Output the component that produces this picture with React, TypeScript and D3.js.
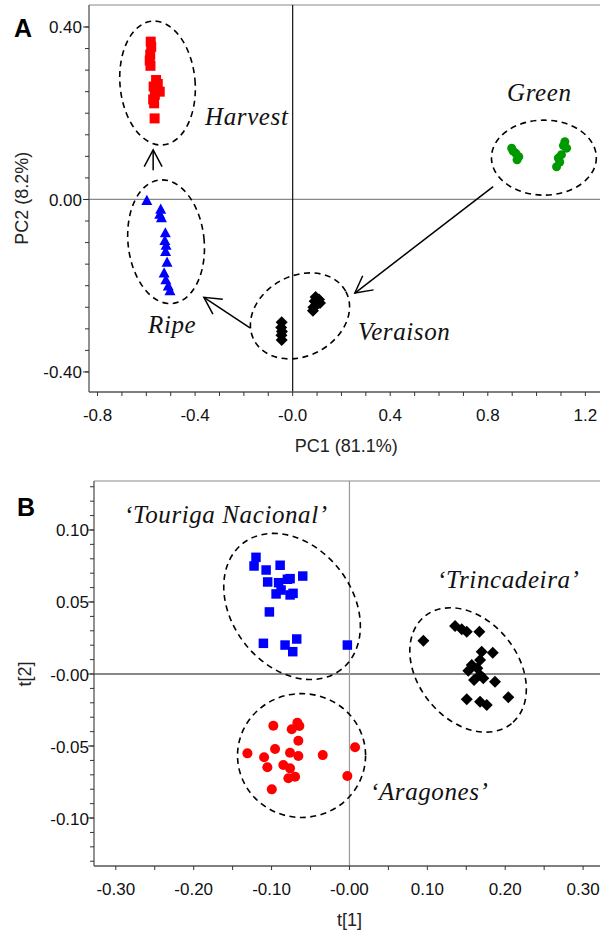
import * as d3 from 'd3';
import React, { useEffect, useRef } from 'react';

// ---- Panel A : PC1 / PC2 scores per ripening stage ----
const harvestX = [-0.582, -0.580, -0.584, -0.586, -0.583, -0.560, -0.553, -0.545, -0.570, -0.565, -0.572, -0.568, -0.566];
const harvestY = [0.366, 0.354, 0.336, 0.322, 0.310, 0.277, 0.268, 0.250, 0.262, 0.243, 0.232, 0.223, 0.188];
const ripeX = [-0.598, -0.541, -0.545, -0.538, -0.522, -0.524, -0.519, -0.521, -0.515, -0.527, -0.520, -0.510, -0.503];
const ripeY = [-0.002, -0.022, -0.034, -0.042, -0.077, -0.095, -0.106, -0.120, -0.145, -0.170, -0.186, -0.200, -0.211];
const veraisonX = [-0.045, -0.047, -0.044, -0.046, -0.045, 0.083, 0.094, 0.108, 0.112, 0.097, 0.085, 0.090];
const veraisonY = [-0.285, -0.297, -0.306, -0.315, -0.326, -0.258, -0.226, -0.232, -0.240, -0.245, -0.250, -0.236];
const greenX = [0.898, 0.904, 0.915, 0.920, 0.927, 1.116, 1.123, 1.110, 1.089, 1.082, 1.095, 1.102];
const greenY = [0.119, 0.112, 0.107, 0.092, 0.099, 0.134, 0.119, 0.125, 0.096, 0.076, 0.087, 0.104];

const pc1Ticks = [-0.8, -0.4, 0, 0.4, 0.8, 1.2];
const pc1TickLabels = ['-0.8', '-0.4', '-0.0', '0.4', '0.8', '1.2'];
const pc2Ticks = [-0.4, 0, 0.4];
const pc2TickLabels = ['-0.40', '0.00', '0.40'];

// ---- Panel B : t[1] / t[2] scores per cultivar ----
const tourigaX = [-0.120, -0.1225, -0.107, -0.089, -0.060, -0.105, -0.091, -0.0797, -0.0762, -0.0878, -0.0942, -0.0762, -0.0724, -0.1028, -0.1105, -0.0827, -0.0728, -0.0677, -0.0027];
const tourigaY = [0.081, 0.075, 0.0722, 0.0755, 0.068, 0.0639, 0.0634, 0.0658, 0.0662, 0.0583, 0.0556, 0.0549, 0.056, 0.0431, 0.0213, 0.0201, 0.0155, 0.0243, 0.0201];
const aragonesX = [-0.0977, -0.0669, -0.0643, -0.0741, -0.0656, -0.131, -0.0955, -0.0763, -0.0656, -0.1096, -0.1054, -0.0849, -0.0763, -0.0698, -0.0784, -0.0343, 0.0072, -0.0027, -0.0997];
const aragonesY = [-0.0359, -0.0338, -0.0361, -0.0384, -0.0463, -0.0551, -0.0521, -0.0547, -0.0569, -0.0578, -0.0648, -0.0632, -0.0655, -0.0713, -0.0724, -0.0563, -0.0509, -0.0708, -0.0801];
const trincaX = [0.0949, 0.1356, 0.1442, 0.1506, 0.1668, 0.1698, 0.184, 0.1677, 0.157, 0.1526, 0.1642, 0.1677, 0.16, 0.1719, 0.1869, 0.1506, 0.1677, 0.1763, 0.204];
const trincaY = [0.0231, 0.0333, 0.031, 0.0294, 0.0294, 0.0155, 0.0148, 0.0097, 0.0063, 0.0023, 0.004, -0.0007, -0.0042, -0.003, -0.0053, -0.0176, -0.0192, -0.0215, -0.0162];

const t1Ticks = [-0.3, -0.2, -0.1, 0, 0.1, 0.2, 0.3];
const t1TickLabels = ['-0.30', '-0.20', '-0.10', '-0.00', '0.10', '0.20', '0.30'];
const t2Ticks = [-0.1, -0.05, 0, 0.05, 0.1];
const t2TickLabels = ['-0.10', '-0.05', '-0.00', '0.05', '0.10'];

// group outlines (data units, rotation in degrees)
const ellipsesA = [
	{ cx: -0.554, cy: 0.270, rx: 0.154, ry: 0.144, rot: -5 },
	{ cx: -0.519, cy: -0.098, rx: 0.156, ry: 0.144, rot: -6 },
	{ cx: 0.030, cy: -0.270, rx: 0.213, ry: 0.093, rot: -28 },
	{ cx: 1.030, cy: 0.097, rx: 0.215, ry: 0.087, rot: 0 },
];
const arrowsA = [
	{ x1: -0.572, y1: 0.068, x2: -0.572, y2: 0.115 },
	{ x1: -0.175, y1: -0.298, x2: -0.364, y2: -0.227 },
	{ x1: 0.822, y1: 0.030, x2: 0.255, y2: -0.217 },
];
const labelsA = [
	{ text: 'Harvest', x: -0.359, y: 0.173 },
	{ text: 'Green', x: 0.879, y: 0.229 },
	{ text: 'Ripe', x: -0.593, y: -0.310 },
	{ text: 'Veraison', x: 0.268, y: -0.326 },
];
const ellipsesB = [
	{ cx: -0.0737, cy: 0.0469, rx: 0.1027, ry: 0.0417, rot: 52 },
	{ cx: 0.1523, cy: 0.0028, rx: 0.0886, ry: 0.0347, rot: 51 },
	{ cx: -0.0615, cy: -0.0566, rx: 0.0822, ry: 0.0430, rot: 0 },
];
const labelsB = [
	{ text: '\u2018Touriga Nacional\u2019', x: -0.2894, y: 0.1048 },
	{ text: '\u2018Trincadeira\u2019', x: 0.1124, y: 0.0597 },
	{ text: '\u2018Aragones\u2019', x: 0.0264, y: -0.0875 },
];

const SANS = '"Liberation Sans", Arial, sans-serif';
const SERIF = '"Liberation Serif", "Times New Roman", serif';

const markerPath = (type, s) => {
	const h = s / 2;
	if (type === 'square') return `M${-h},${-h}H${h}V${h}H${-h}Z`;
	if (type === 'triangle') return `M0,${-h}L${h},${h * 0.85}L${-h},${h * 0.85}Z`;
	if (type === 'diamond') return `M0,${-h}L${h},0L0,${h}L${-h},0Z`;
	return d3.symbol(d3.symbolCircle, Math.PI * h * h)();
};

const drawPanel = (svg, p) => {
	const { x, y } = p;
	const [left, right] = x.range();
	const [bottom, top] = y.range();
	const g = svg.append('g');

	// top border + zero lines
	g.append('line').attr('x1', left).attr('x2', right).attr('y1', top).attr('y2', top)
		.attr('stroke', '#8a8a8a').attr('stroke-width', 1.2);
	g.append('line').attr('x1', left).attr('x2', right).attr('y1', y(0)).attr('y2', y(0))
		.attr('stroke', p.hZeroColor).attr('stroke-width', 1.2);
	g.append('line').attr('x1', x(0)).attr('x2', x(0)).attr('y1', top).attr('y2', bottom)
		.attr('stroke', p.vZeroColor).attr('stroke-width', 1.2);

	// axes lines
	g.append('line').attr('x1', left).attr('x2', left).attr('y1', top).attr('y2', bottom)
		.attr('stroke', '#555').attr('stroke-width', 1.3);
	g.append('line').attr('x1', left).attr('x2', right).attr('y1', bottom).attr('y2', bottom)
		.attr('stroke', '#555').attr('stroke-width', 1.3);

	// ticks
	g.selectAll('.xminor').data(p.xMinor).enter().append('line')
		.attr('x1', d => x(d)).attr('x2', d => x(d)).attr('y1', bottom).attr('y2', bottom + 4)
		.attr('stroke', '#333');
	g.selectAll('.yminor').data(p.yMinor).enter().append('line')
		.attr('x1', left - 4).attr('x2', left).attr('y1', d => y(d)).attr('y2', d => y(d))
		.attr('stroke', '#333');
	g.selectAll('.ymajor').data(p.yTicks).enter().append('line')
		.attr('x1', left - 6).attr('x2', left).attr('y1', d => y(d)).attr('y2', d => y(d))
		.attr('stroke', '#333');

	g.selectAll('.xlab').data(p.xTicks).enter().append('text')
		.attr('x', d => x(d)).attr('y', bottom + 29)
		.attr('text-anchor', 'middle').attr('font-family', SANS).attr('font-size', 17)
		.attr('fill', '#111').text((d, i) => p.xTickLabels[i]);
	g.selectAll('.ylab').data(p.yTicks).enter().append('text')
		.attr('x', left - p.yLabGap).attr('y', d => y(d) + 6.5)
		.attr('text-anchor', 'end').attr('font-family', SANS).attr('font-size', 17)
		.attr('fill', '#111').text((d, i) => p.yTickLabels[i]);

	// axis titles
	g.append('text').attr('x', x(p.xTitlePos)).attr('y', bottom + 60)
		.attr('text-anchor', 'middle').attr('font-family', SANS).attr('font-size', 18)
		.attr('fill', '#222').text(p.xTitle);
	g.append('text')
		.attr('transform', `translate(${p.yTitleX},${y(p.yTitlePos)}) rotate(-90)`)
		.attr('text-anchor', 'middle').attr('font-family', SANS).attr('font-size', 18)
		.attr('fill', '#222').text(p.yTitle);

	// panel letter
	g.append('text').attr('x', p.letterX).attr('y', p.letterY)
		.attr('font-family', SANS).attr('font-weight', 'bold').attr('font-size', 25)
		.attr('fill', '#000').text(p.letter);

	// ellipses
	g.selectAll('.ell').data(p.ellipses).enter().append('ellipse')
		.attr('cx', 0).attr('cy', 0)
		.attr('rx', d => Math.abs(x(d.rx) - x(0)))
		.attr('ry', d => Math.abs(y(d.ry) - y(0)))
		.attr('transform', d => `translate(${x(d.cx)},${y(d.cy)}) rotate(${d.rot})`)
		.attr('fill', 'none').attr('stroke', '#000').attr('stroke-width', 1.6)
		.attr('stroke-dasharray', '6,4.5');

	// arrows
	(p.arrows || []).forEach(a => {
		const x1 = x(a.x1), y1 = y(a.y1), x2 = x(a.x2), y2 = y(a.y2);
		const ang = Math.atan2(y2 - y1, x2 - x1);
		const L = 19, spread = 28 * Math.PI / 180;
		g.append('line').attr('x1', x1).attr('y1', y1).attr('x2', x2).attr('y2', y2)
			.attr('stroke', '#000').attr('stroke-width', 1.5);
		g.append('path')
			.attr('d', `M${x2 - L * Math.cos(ang - spread)},${y2 - L * Math.sin(ang - spread)}L${x2},${y2}L${x2 - L * Math.cos(ang + spread)},${y2 - L * Math.sin(ang + spread)}`)
			.attr('fill', 'none').attr('stroke', '#000').attr('stroke-width', 1.5);
	});

	// points
	p.series.forEach(s => {
		g.append('g').selectAll('path').data(s.xs).enter().append('path')
			.attr('d', markerPath(s.shape, s.size))
			.attr('transform', (d, i) => `translate(${x(d)},${y(s.ys[i])})`)
			.attr('fill', s.color);
	});

	// group labels
	g.selectAll('.glab').data(p.labels).enter().append('text')
		.attr('x', d => x(d.x)).attr('y', d => y(d.y))
		.attr('font-family', SERIF).attr('font-style', 'italic').attr('font-size', 25)
		.attr('letter-spacing', 0.6).attr('fill', '#111').text(d => d.text);
};

const App = () => {
	const chartRef = useRef(null);

	useEffect(() => {
		const svg = d3.select(chartRef.current);
		svg.selectAll('*').remove();

		const xA = d3.scaleLinear().domain([-0.835, 1.26]).range([89, 600]);
		const yA = d3.scaleLinear().domain([-0.4465, 0.451]).range([392, 5]);
		drawPanel(svg, {
			x: xA, y: yA,
			xTicks: pc1Ticks, xTickLabels: pc1TickLabels, xMinor: d3.range(-0.8, 1.21, 0.1),
			yTicks: pc2Ticks, yTickLabels: pc2TickLabels, yMinor: d3.range(-0.4, 0.41, 0.05),
			hZeroColor: '#888', vZeroColor: '#111', yLabGap: 7,
			xTitle: 'PC1 (81.1%)', xTitlePos: 0.22, yTitle: 'PC2 (8.2%)', yTitleX: 28, yTitlePos: 0.003,
			letter: 'A', letterX: 14, letterY: 37,
			ellipses: ellipsesA, arrows: arrowsA, labels: labelsA,
			series: [
				{ xs: harvestX, ys: harvestY, shape: 'square', size: 10, color: '#ff0000' },
				{ xs: ripeX, ys: ripeY, shape: 'triangle', size: 11, color: '#0000ff' },
				{ xs: veraisonX, ys: veraisonY, shape: 'diamond', size: 12, color: '#000000' },
				{ xs: greenX, ys: greenY, shape: 'circle', size: 9, color: '#009a00' },
			],
		});

		const xB = d3.scaleLinear().domain([-0.328, 0.3217]).range([94, 600]);
		const yB = d3.scaleLinear().domain([-0.1333, 0.134]).range([866, 481]);
		drawPanel(svg, {
			x: xB, y: yB,
			xTicks: t1Ticks, xTickLabels: t1TickLabels, xMinor: d3.range(-0.3, 0.31, 0.05),
			yTicks: t2Ticks, yTickLabels: t2TickLabels, yMinor: d3.range(-0.13, 0.131, 0.01),
			hZeroColor: '#111', vZeroColor: '#999', yLabGap: 5,
			xTitle: 't[1]', xTitlePos: 0, yTitle: 't[2]', yTitleX: 31, yTitlePos: 0,
			letter: 'B', letterX: 17, letterY: 516,
			ellipses: ellipsesB, labels: labelsB,
			series: [
				{ xs: tourigaX, ys: tourigaY, shape: 'square', size: 9.5, color: '#0000ff' },
				{ xs: aragonesX, ys: aragonesY, shape: 'circle', size: 10, color: '#ff0000' },
				{ xs: trincaX, ys: trincaY, shape: 'diamond', size: 12, color: '#000000' },
			],
		});
	}, []);

	return (
		<svg ref={chartRef} width={600} height={932}
			style={{ position: 'absolute', left: 0, top: 0, background: '#fff' }} />
	);
};

export default App;
